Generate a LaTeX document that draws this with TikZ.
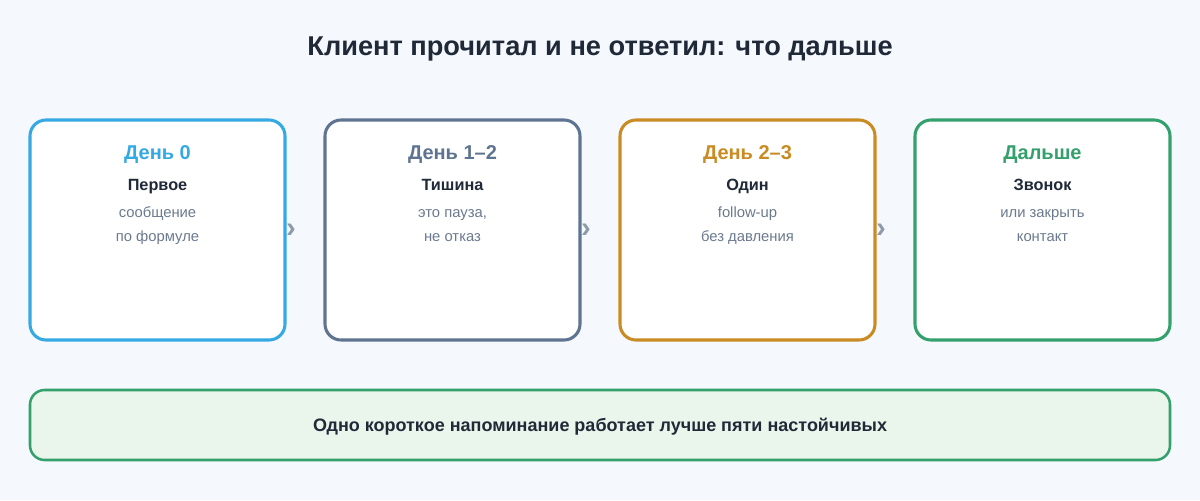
\documentclass[tikz,border=0pt]{standalone}
\usepackage{fontspec}
\setmainfont{Liberation Sans}
\definecolor{bg}{HTML}{F5F8FD}
\definecolor{cblue}{HTML}{35A9E3}
\definecolor{cslate}{HTML}{5F7490}
\definecolor{cgold}{HTML}{C98B22}
\definecolor{cgreen}{HTML}{34A06C}
\definecolor{dark}{HTML}{1F2937}
\definecolor{sub}{HTML}{6B7A8F}
\definecolor{chev}{HTML}{8E9AAA}
\definecolor{notefill}{HTML}{EAF5EC}
\tikzset{
  card/.style={draw=#1, line width=2.3pt, fill=white, rounded corners=12pt},
  head/.style={font=\fontsize{15}{18}\selectfont\bfseries, text=#1, anchor=base},
  lead/.style={font=\fontsize{12.2}{14}\selectfont\bfseries, text=dark, anchor=base},
  subt/.style={font=\fontsize{11.1}{13}\selectfont, text=sub, anchor=base},
  chevron/.style={font=\fontsize{22}{22}\selectfont\bfseries, text=chev, anchor=center, inner sep=0pt},
}
\begin{document}
\begin{tikzpicture}[x=0.75pt,y=-0.75pt]
\fill[bg] (0,0) rectangle (1200,500);
\useasboundingbox (0,0) rectangle (1200,500);
\node[font=\fontsize{20.4}{24}\selectfont\bfseries, text=dark, anchor=base] (title) at (600,55) {Клиент прочитал и не ответил: что дальше};
% cards
\draw[card=cblue] (30,120) rectangle (285,340);
\draw[card=cslate] (325,120) rectangle (580,340);
\draw[card=cgold] (620,120) rectangle (875,340);
\draw[card=cgreen] (915,120) rectangle (1170,340);
% texts card 1
\node[head=cblue] (h1) at (157.5,159) {День 0};
\node[lead] (l1) at (157.5,190) {Первое};
\node[subt] (s1a) at (157.5,217) {сообщение};
\node[subt] (s1b) at (157.5,241) {по формуле};
% card 2
\node[head=cslate] (h2) at (452.5,159) {День 1–2};
\node[lead] (l2) at (452.5,190) {Тишина};
\node[subt] (s2a) at (452.5,217) {это пауза,};
\node[subt] (s2b) at (452.5,241) {не отказ};
% card 3
\node[head=cgold] (h3) at (747.5,159) {День 2–3};
\node[lead] (l3) at (747.5,190) {Один};
\node[subt] (s3a) at (747.5,217) {follow-up};
\node[subt] (s3b) at (747.5,241) {без давления};
% card 4
\node[head=cgreen] (h4) at (1042.5,159) {Дальше};
\node[lead] (l4) at (1042.5,190) {Звонок};
\node[subt] (s4a) at (1042.5,217) {или закрыть};
\node[subt] (s4b) at (1042.5,241) {контакт};
% chevrons
\node[chevron] (ch1) at (291,230.5) {›};
\node[chevron] (ch2) at (586,230.5) {›};
\node[chevron] (ch3) at (881,230.5) {›};
% note
\draw[draw=cgreen, line width=1.9pt, fill=notefill, rounded corners=11pt] (30,390) rectangle (1170,460);
\node[font=\fontsize{13.5}{16}\selectfont\bfseries, text=dark, anchor=base] (note) at (600,431) {Одно короткое напоминание работает лучше пяти настойчивых};
\end{tikzpicture}
\end{document}
